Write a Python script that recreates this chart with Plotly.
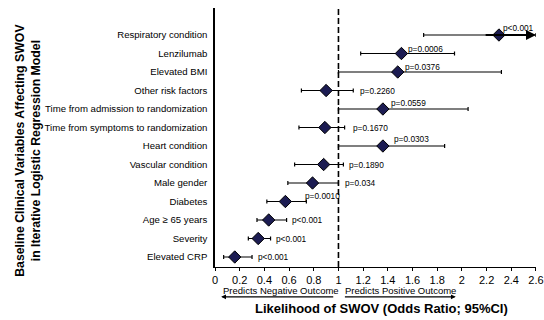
import plotly.graph_objects as go

categories = ["Respiratory condition", "Lenzilumab", "Elevated BMI", "Other risk factors",
              "Time from admission to randomization", "Time from symptoms to randomization",
              "Heart condition", "Vascular condition", "Male gender", "Diabetes",
              "Age \u2265 65 years", "Severity", "Elevated CRP"]
odds_ratio = [2.30, 1.51, 1.48, 0.90, 1.36, 0.89, 1.36, 0.88, 0.79, 0.57, 0.435, 0.35, 0.16]
ci_low = [1.69, 1.18, 1.00, 0.70, 1.00, 0.68, 1.00, 0.645, 0.59, 0.42, 0.34, 0.27, 0.07]
ci_high = [2.60, 1.94, 2.32, 1.12, 2.05, 1.05, 1.86, 1.04, 1.00, 0.74, 0.58, 0.45, 0.30]
p_values = ["p<0.001", "p=0.0006", "p=0.0376", "p=0.2260", "p=0.0559", "p=0.1670",
            "p=0.0303", "p=0.1890", "p=0.034", "p=0.0010", "p<0.001", "p<0.001", "p<0.001"]
x_ticks = [0, 0.2, 0.4, 0.6, 0.8, 1, 1.2, 1.4, 1.6, 1.8, 2, 2.2, 2.4, 2.6]
x_tick_labels = ["0", "0.2", "0.4", "0.6", "0.8", "1", "1.2", "1.4", "1.6", "1.8", "2", "2.2", "2.4", "2.6"]

# label placement (layout only)
p_label_x = [2.32, 1.55, 1.52, 1.16, 1.41, 1.10, 1.43, 1.07, 1.04, 0.71, 0.61, 0.48, 0.33]
p_label_dy = [0.36, 0.27, 0.25, 0, 0.32, 0, 0.38, 0, 0, 0.32, 0, 0, 0]

n = len(categories)
ypos = [n - i for i in range(n)]

err_plus = [h - o for h, o in zip(ci_high, odds_ratio)]
err_minus = [o - l for o, l in zip(odds_ratio, ci_low)]

fig = go.Figure()
fig.add_trace(go.Scatter(
    x=odds_ratio, y=ypos, mode="markers",
    marker=dict(symbol="diamond", size=9.5, color="#1c1c52", line=dict(color="black", width=1)),
    error_x=dict(type="data", symmetric=False, array=err_plus, arrayminus=err_minus,
                 color="black", thickness=1.2, width=2),
    showlegend=False, hoverinfo="skip",
))

font = "Liberation Sans, Arial, sans-serif"
annotations = []
for i in range(n):
    annotations.append(dict(x=p_label_x[i], y=ypos[i] + p_label_dy[i], xref="x", yref="y",
                            text=p_values[i], showarrow=False, xanchor="left", yanchor="middle",
                            font=dict(size=8.3, color="black", family=font)))

# arrow for truncated upper CI (respiratory)
annotations.append(dict(x=ci_high[0], y=ypos[0], ax=2.18, ay=ypos[0], xref="x", yref="y",
                        axref="x", ayref="y", text="", showarrow=True, arrowhead=2,
                        arrowsize=1, arrowwidth=2, arrowcolor="black"))

# direction arrows under axis
annotations.append(dict(x=0.05, y=-0.115, ax=0.97, ay=-0.115, xref="x", yref="y domain",
                        axref="x", ayref="y domain", text="", showarrow=True, arrowhead=2,
                        arrowsize=0.8, arrowwidth=1.2, arrowcolor="black"))
annotations.append(dict(x=1.95, y=-0.115, ax=1.04, ay=-0.115, xref="x", yref="y domain",
                        axref="x", ayref="y domain", text="", showarrow=True, arrowhead=2,
                        arrowsize=0.8, arrowwidth=1.2, arrowcolor="black"))
annotations.append(dict(x=0.05, y=-0.092, xref="x", yref="paper", text="Predicts Negative Outcome",
                        showarrow=False, xanchor="left", yanchor="middle",
                        font=dict(size=9.5, color="black", family=font)))
annotations.append(dict(x=1.04, y=-0.092, xref="x", yref="paper", text="Predicts Positive Outcome",
                        showarrow=False, xanchor="left", yanchor="middle",
                        font=dict(size=9.5, color="black", family=font)))
annotations.append(dict(x=0.52, y=-0.16, xref="paper", yref="paper",
                        text="<b>Likelihood of SWOV (Odds Ratio; 95%CI)</b>",
                        showarrow=False, xanchor="center", yanchor="middle",
                        font=dict(size=13, color="black", family=font)))
annotations.append(dict(x=-0.583, y=0.452, xref="paper", yref="paper",
                        text="<b>Baseline Clinical Variables Affecting SWOV<br>in Iterative Logistic Regression Model</b>",
                        showarrow=False, textangle=-90, xanchor="center", yanchor="middle",
                        font=dict(size=12.3, color="black", family=font)))

fig.update_layout(
    width=544, height=320,
    margin=dict(l=215, r=8, t=8, b=53),
    paper_bgcolor="white", plot_bgcolor="white",
    font=dict(family=font, color="black"),
    annotations=annotations,
    shapes=[dict(type="line", x0=1, x1=1, y0=0, y1=1, xref="x", yref="paper",
                 line=dict(color="black", width=1.6, dash="6px,3px"))],
)
fig.update_xaxes(range=[0, 2.6001], tickvals=x_ticks, ticktext=x_tick_labels,
                 showline=True, linecolor="black", linewidth=1, ticks="outside",
                 ticklen=3, tickcolor="black", showgrid=False, zeroline=False,
                 ticklabeloverflow="allow", automargin=False,
                 tickfont=dict(size=11, color="black", family=font))
fig.update_yaxes(range=[0.46, 14.46], tickvals=ypos, ticktext=categories,
                 showline=True, linecolor="black", linewidth=1.5, ticks="",
                 ticklabelstandoff=4, automargin=False,
                 showgrid=False, zeroline=False,
                 tickfont=dict(size=9.6, color="black", family=font))

fig.write_html("out.html")
